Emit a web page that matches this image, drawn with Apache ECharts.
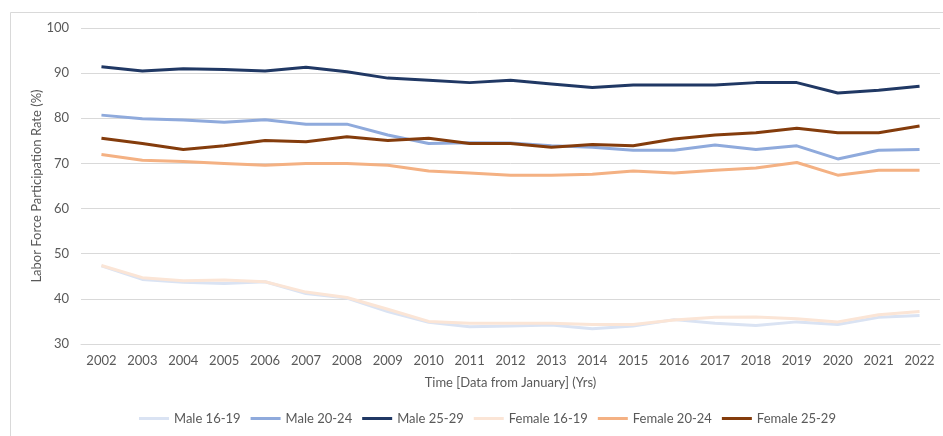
<!DOCTYPE html>
<html>
<head>
<meta charset="utf-8">
<title>Labor Force Participation Rate</title>
<script src="https://cdn.jsdelivr.net/npm/echarts@6/dist/echarts.min.js"></script>
<style>
  html,body{margin:0;padding:0;background:#fff;}
  #main{width:943px;height:436px;}
</style>
</head>
<body>
<div id="main"></div>
<script>
// years on the x axis
var years=['2002','2003','2004','2005','2006','2007','2008','2009','2010','2011','2012','2013','2014','2015','2016','2017','2018','2019','2020','2021','2022'];
// y axis ticks
var yTicks=[30,40,50,60,70,80,90,100];
// participation rate (%)
var male1619=[47.3,44.3,43.7,43.4,43.8,41.2,40.2,37.2,34.8,33.8,34.0,34.2,33.4,34.0,35.4,34.6,34.1,34.9,34.3,35.9,36.3];
var male2024=[80.7,79.9,79.6,79.1,79.7,78.7,78.7,76.3,74.4,74.6,74.5,73.9,73.6,72.9,72.9,74.1,73.1,73.9,71.0,72.9,73.1];
var male2529=[91.4,90.5,91.0,90.8,90.5,91.3,90.3,88.9,88.4,87.9,88.4,87.6,86.8,87.4,87.4,87.4,87.9,87.9,85.6,86.2,87.1];
var female1619=[47.4,44.7,44.0,44.2,43.8,41.5,40.3,37.7,35.0,34.6,34.6,34.6,34.3,34.3,35.3,35.9,36.0,35.6,34.9,36.5,37.2];
var female2024=[72.0,70.7,70.4,70.0,69.6,70.0,70.0,69.6,68.3,67.9,67.4,67.4,67.6,68.3,67.9,68.5,69.0,70.2,67.4,68.5,68.5];
var female2529=[75.6,74.4,73.1,73.9,75.1,74.8,75.9,75.1,75.6,74.4,74.4,73.6,74.2,73.9,75.4,76.3,76.8,77.8,76.8,76.8,78.3];

var seriesNames=['Male 16-19','Male 20-24','Male 25-29','Female 16-19','Female 20-24','Female 25-29'];
var seriesData=[male1619,male2024,male2529,female1619,female2024,female2529];
var seriesColors=['#dae3f3','#8faadc','#203864','#fbe5d6','#f4b183','#843c0c'];

var font='Lato, "Open Sans", sans-serif';
var app=echarts.init(document.getElementById('main'));

var series=[];
for(var i=0;i<seriesNames.length;i++){
    series.push({
        name:seriesNames[i],
        type:'line',
        data:seriesData[i],
        symbol:'none',
        lineStyle:{width:3,color:seriesColors[i]},
        itemStyle:{color:seriesColors[i]}
    });
}

var option={
    animation:false,
    backgroundColor:'#fff',
    textStyle:{fontFamily:font},
    // chart frame
    graphic:[{
        type:'rect',
        shape:{x:10.5,y:12.5,width:940,height:440},
        style:{fill:'none',stroke:'#d9d9d9',lineWidth:1},
        silent:true
    }],
    grid:{left:81,right:3,top:28,bottom:92},
    legend:{
        data:seriesNames,
        left:139,
        top:412,
        icon:'rect',
        itemWidth:30,
        itemHeight:3,
        itemGap:10,
        padding:0,
        textStyle:{color:'#595959',fontSize:13,fontFamily:font}
    },
    xAxis:{
        type:'category',
        data:years,
        boundaryGap:true,
        name:'Time [Data from January] (Yrs)',
        nameLocation:'middle',
        nameGap:32,
        nameTextStyle:{color:'#595959',fontSize:13,fontFamily:font},
        axisLine:{lineStyle:{color:'#d9d9d9',width:1}},
        axisTick:{show:false},
        axisLabel:{color:'#595959',fontSize:13,margin:10,fontFamily:font}
    },
    yAxis:{
        type:'value',
        min:yTicks[0],
        max:yTicks[yTicks.length-1],
        interval:10,
        name:'Labor Force Participation Rate (%)',
        nameLocation:'middle',
        nameGap:38,
        nameMoveOverlap:false,
        nameTextStyle:{color:'#595959',fontSize:13,fontFamily:font},
        axisLine:{show:false},
        axisTick:{show:false},
        axisLabel:{color:'#595959',fontSize:13,margin:12,fontFamily:font},
        splitLine:{lineStyle:{color:'#d9d9d9',width:1}}
    },
    series:series
};
app.setOption(option);
</script>
</body>
</html>
